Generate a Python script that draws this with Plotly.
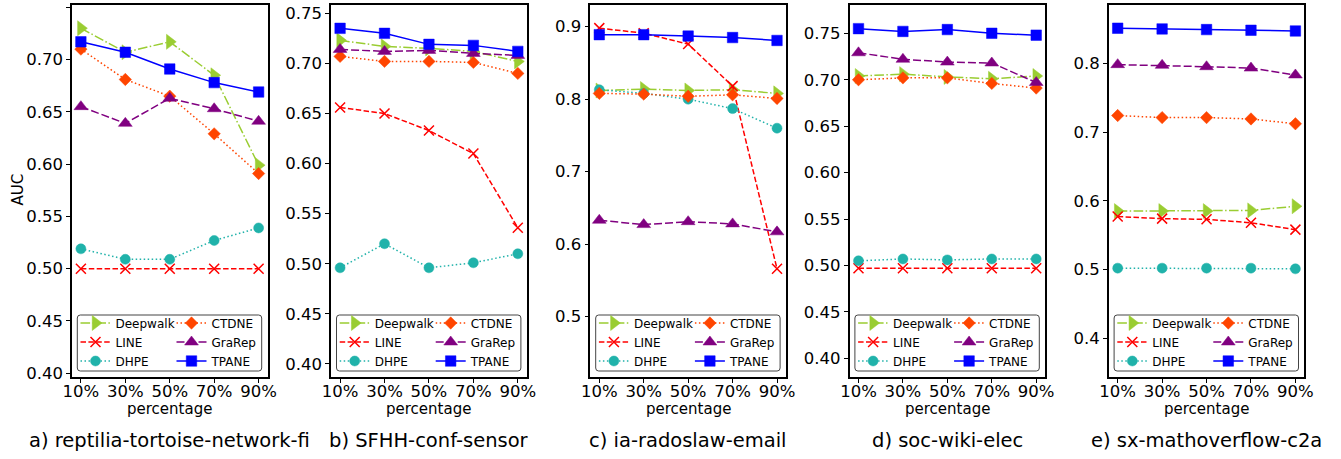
import plotly.graph_objects as go

W, H = 1341, 459

percentages = ["10%", "30%", "50%", "70%", "90%"]
methods = ["Deepwalk", "LINE", "DHPE", "CTDNE", "GraRep", "TPANE"]
panel_titles = [
    "a) reptilia-tortoise-network-fi",
    "b) SFHH-conf-sensor",
    "c) ia-radoslaw-email",
    "d) soc-wiki-elec",
    "e) sx-mathoverflow-c2a",
]

# AUC values per dataset (order: Deepwalk, LINE, DHPE, CTDNE, GraRep, TPANE)
auc_reptilia = [
    [0.730, 0.707, 0.717, 0.685, 0.599],
    [0.500, 0.500, 0.500, 0.500, 0.500],
    [0.519, 0.509, 0.509, 0.527, 0.539],
    [0.710, 0.681, 0.665, 0.629, 0.591],
    [0.655, 0.639, 0.663, 0.653, 0.641],
    [0.717, 0.707, 0.691, 0.678, 0.669],
]
auc_sfhh = [
    [0.723, 0.717, 0.715, 0.712, 0.702],
    [0.656, 0.650, 0.633, 0.610, 0.536],
    [0.496, 0.520, 0.496, 0.501, 0.510],
    [0.707, 0.702, 0.702, 0.701, 0.690],
    [0.714, 0.712, 0.713, 0.710, 0.708],
    [0.735, 0.730, 0.719, 0.718, 0.712],
]
auc_radoslaw = [
    [0.812, 0.814, 0.812, 0.813, 0.808],
    [0.898, 0.891, 0.876, 0.818, 0.566],
    [0.813, 0.808, 0.800, 0.787, 0.760],
    [0.808, 0.807, 0.804, 0.806, 0.801],
    [0.633, 0.627, 0.631, 0.628, 0.617],
    [0.889, 0.889, 0.887, 0.885, 0.881],
]
auc_wiki = [
    [0.704, 0.706, 0.703, 0.701, 0.704],
    [0.497, 0.497, 0.497, 0.497, 0.497],
    [0.505, 0.507, 0.506, 0.507, 0.507],
    [0.700, 0.702, 0.702, 0.696, 0.691],
    [0.729, 0.722, 0.719, 0.718, 0.697],
    [0.755, 0.752, 0.754, 0.750, 0.748],
]
auc_mathoverflow = [
    [0.585, 0.585, 0.585, 0.586, 0.592],
    [0.577, 0.574, 0.573, 0.568, 0.558],
    [0.502, 0.502, 0.502, 0.502, 0.501],
    [0.724, 0.721, 0.721, 0.719, 0.712],
    [0.798, 0.797, 0.795, 0.793, 0.783],
    [0.851, 0.850, 0.849, 0.848, 0.847],
]
panel_data = [auc_reptilia, auc_sfhh, auc_radoslaw, auc_wiki, auc_mathoverflow]

yticks_a = [0.40, 0.45, 0.50, 0.55, 0.60, 0.65, 0.70, 0.75]
yticks_b = [0.40, 0.45, 0.50, 0.55, 0.60, 0.65, 0.70, 0.75]
yticks_c = [0.5, 0.6, 0.7, 0.8, 0.9]
yticks_d = [0.40, 0.45, 0.50, 0.55, 0.60, 0.65, 0.70, 0.75]
yticks_e = [0.4, 0.5, 0.6, 0.7, 0.8]
panel_yticks = [yticks_a, yticks_b, yticks_c, yticks_d, yticks_e]
panel_tickfmt = ["{:.2f}", "{:.2f}", "{:.1f}", "{:.2f}", "{:.1f}"]
panel_yrange = [
    [0.3967, 0.7527],
    [0.3873, 0.7588],
    [0.4172, 0.9306],
    [0.3802, 0.7810],
    [0.3441, 0.8855],
]

styles = {
    "Deepwalk": dict(color="#9ACD32", dash="9.6px,2.4px,1.5px,2.4px", symbol="triangle-right", size=13),
    "LINE": dict(color="#FF0000", dash="5.5px,2.4px", symbol="x-thin", size=10),
    "DHPE": dict(color="#20B2AA", dash="1.5px,2.5px", symbol="circle", size=10),
    "CTDNE": dict(color="#FF4500", dash="1.5px,2.5px", symbol="diamond", size=9.5),
    "GraRep": dict(color="#800080", dash="8px,3px", symbol="triangle-up", size=12),
    "TPANE": dict(color="#0000FF", dash="solid", symbol="square", size=10.5),
}

FONT = "DejaVu Sans"

# geometry in pixels
P_LEFT0 = 72.0
P_STEP = 259.2
P_W = 195.5
P_TOP = 4.5
P_BOT = 376.7


def px(x):
    return x / W


def py(y):
    return (H - y) / H


fig = go.Figure()
layout = dict(
    width=W, height=H,
    margin=dict(l=0, r=0, t=0, b=0),
    template="none",
    paper_bgcolor="white",
    plot_bgcolor="white",
    font=dict(family=FONT, color="black"),
    showlegend=True,
)
annotations = []
shapes = []

for i in range(5):
    left = P_LEFT0 + i * P_STEP
    right = left + P_W
    xa = "x" if i == 0 else f"x{i+1}"
    ya = "y" if i == 0 else f"y{i+1}"
    xkey = "xaxis" if i == 0 else f"xaxis{i+1}"
    ykey = "yaxis" if i == 0 else f"yaxis{i+1}"
    lg_left = "legend" if i == 0 else f"legend{2*i+1}"
    lg_right = f"legend{2*i+2}"

    for m, name in enumerate(methods):
        st = styles[name]
        marker = dict(symbol=st["symbol"], size=st["size"], color=st["color"],
                      line=dict(color=st["color"], width=1.5 if name == "LINE" else 0.5))
        fig.add_trace(go.Scatter(
            x=percentages, y=panel_data[i][m], name=name,
            mode="lines+markers",
            line=dict(color=st["color"], width=1.5, dash=st["dash"]),
            marker=marker,
            xaxis=xa, yaxis=ya,
            legend=lg_left if m < 3 else lg_right,
            showlegend=True,
        ))

    layout[xkey] = dict(
        domain=[px(left), px(right)], anchor=ya,
        range=[-0.2, 4.2], type="category",
        showline=True, mirror=True, linecolor="black", linewidth=1.6,
        ticks="outside", ticklen=4, tickwidth=1, tickcolor="black",
        ticklabelstandoff=-5,
        tickfont=dict(size=16.5, family=FONT, color="black"),
        showgrid=False, zeroline=False, fixedrange=True,
    )
    yt = panel_yticks[i]
    layout[ykey] = dict(
        domain=[py(P_BOT), py(P_TOP)], anchor=xa,
        range=panel_yrange[i],
        tickvals=yt, ticktext=[panel_tickfmt[i].format(v) for v in yt],
        showline=True, mirror=True, linecolor="black", linewidth=1.6,
        ticks="outside", ticklen=4, tickwidth=1, tickcolor="black",
        tickfont=dict(size=16.5, family=FONT, color="black"),
        showgrid=False, zeroline=False, fixedrange=True,
    )

    lg_common = dict(xanchor="left", yanchor="top", y=py(308.5),
                     bgcolor="rgba(0,0,0,0)", borderwidth=0,
                     font=dict(size=12, family=FONT, color="black"),
                     tracegroupgap=0, itemwidth=30, orientation="v")
    layout[lg_left] = dict(x=px(left + 3.5), **lg_common)
    layout[lg_right] = dict(x=px(left + 99.5), **lg_common)

    # legend frame (rounded rectangle)
    bx0, bx1 = left + 5.3, left + 189.7
    by0, by1 = 315.0, 371.0
    r = 3.0
    path = (
        f"M {px(bx0 + r)},{py(by0)} L {px(bx1 - r)},{py(by0)} "
        f"Q {px(bx1)},{py(by0)} {px(bx1)},{py(by0 + r)} "
        f"L {px(bx1)},{py(by1 - r)} Q {px(bx1)},{py(by1)} {px(bx1 - r)},{py(by1)} "
        f"L {px(bx0 + r)},{py(by1)} Q {px(bx0)},{py(by1)} {px(bx0)},{py(by1 - r)} "
        f"L {px(bx0)},{py(by0 + r)} Q {px(bx0)},{py(by0)} {px(bx0 + r)},{py(by0)} Z"
    )
    shapes.append(dict(type="path", path=path, xref="paper", yref="paper",
                       fillcolor="white", line=dict(color="#444444", width=1),
                       layer="above"))

    cx = (left + right) / 2
    annotations.append(dict(text="percentage", x=px(cx), y=py(409.3), xref="paper", yref="paper",
                            showarrow=False, xanchor="center", yanchor="middle",
                            font=dict(size=15, family=FONT, color="black")))
    annotations.append(dict(text=panel_titles[i], x=px(cx), y=py(440), xref="paper", yref="paper",
                            showarrow=False, xanchor="center", yanchor="middle",
                            font=dict(size=19.5, family=FONT, color="black")))

annotations.append(dict(text="AUC", x=px(17.5), y=py(190), xref="paper", yref="paper",
                        showarrow=False, xanchor="center", yanchor="middle", textangle=-90,
                        font=dict(size=15, family=FONT, color="black")))

layout["annotations"] = annotations
layout["shapes"] = shapes
fig.update_layout(**layout)
fig.write_html(
    "out.html",
    config={"displayModeBar": False},
    post_script="document.body.style.margin='0';document.body.style.overflow='hidden';",
)
